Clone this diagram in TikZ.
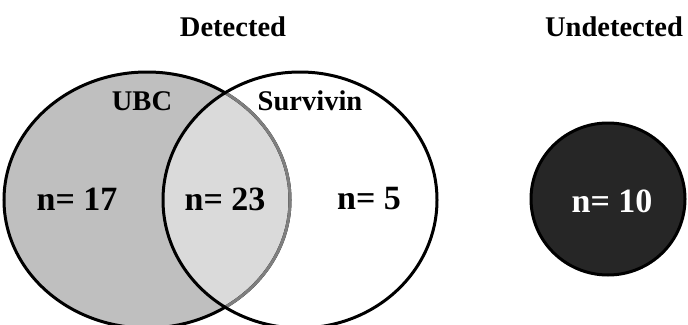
\documentclass[tikz,border=0pt]{standalone}
\usepackage{fontspec}
\setmainfont{Liberation Serif}
\usepackage{tikz}
\usetikzlibrary{positioning}
\definecolor{UbcGray}{HTML}{BFBFBF}
\definecolor{BothGray}{HTML}{DADADA}
\definecolor{EdgeGray}{HTML}{7F7F7F}
\definecolor{Coal}{HTML}{262626}

\begin{document}
\begin{tikzpicture}[x=1pt, y=-1pt,
    title/.style={font=\fontsize{28.5}{33}\selectfont\bfseries},
    setname/.style={font=\fontsize{28.5}{33}\selectfont\bfseries},
    count/.style={font=\fontsize{34}{40}\selectfont\bfseries}]
    \useasboundingbox (0,0) rectangle (688,324);
    \clip (0,0) rectangle (688,324);
    % UBC set, with the shared part lighter
    \fill[UbcGray] (147,200) ellipse [x radius=143pt, y radius=128pt];
    \begin{scope}
      \clip (300,200) ellipse [x radius=137pt, y radius=128pt];
      \fill[BothGray] (147,200) ellipse [x radius=143pt, y radius=128pt];
    \end{scope}
    \draw[line width=3pt] (147,200) ellipse [x radius=143pt, y radius=128pt];
    \begin{scope}
      \clip (300,200) ellipse [x radius=137pt, y radius=128pt];
      \draw[line width=3pt, EdgeGray] (147,200) ellipse [x radius=143pt, y radius=128pt];
    \end{scope}
    % Survivin set
    \draw[line width=3pt] (300,200) ellipse [x radius=137pt, y radius=128pt];
    % undetected
    \fill[Coal, draw=black, line width=3pt] (608,199) ellipse [x radius=77pt, y radius=76pt];

    \node[title] (det) at (233,27) {Detected};
    \node[title] (undet) at (614,27) {Undetected};
    \node[setname] (ubc) at (142,101) {UBC};
    \node[setname] (surv) at (310,101) {Survivin};
    \node[count] (n1) at (77,199) {n= 17};
    \node[count] (n2) at (225,199) {n= 23};
    \node[count] (n3) at (369,199) {n= 5};
    \node[count, text=white] (n4) at (612,201) {n= 10};
  \end{tikzpicture}
\end{document}
